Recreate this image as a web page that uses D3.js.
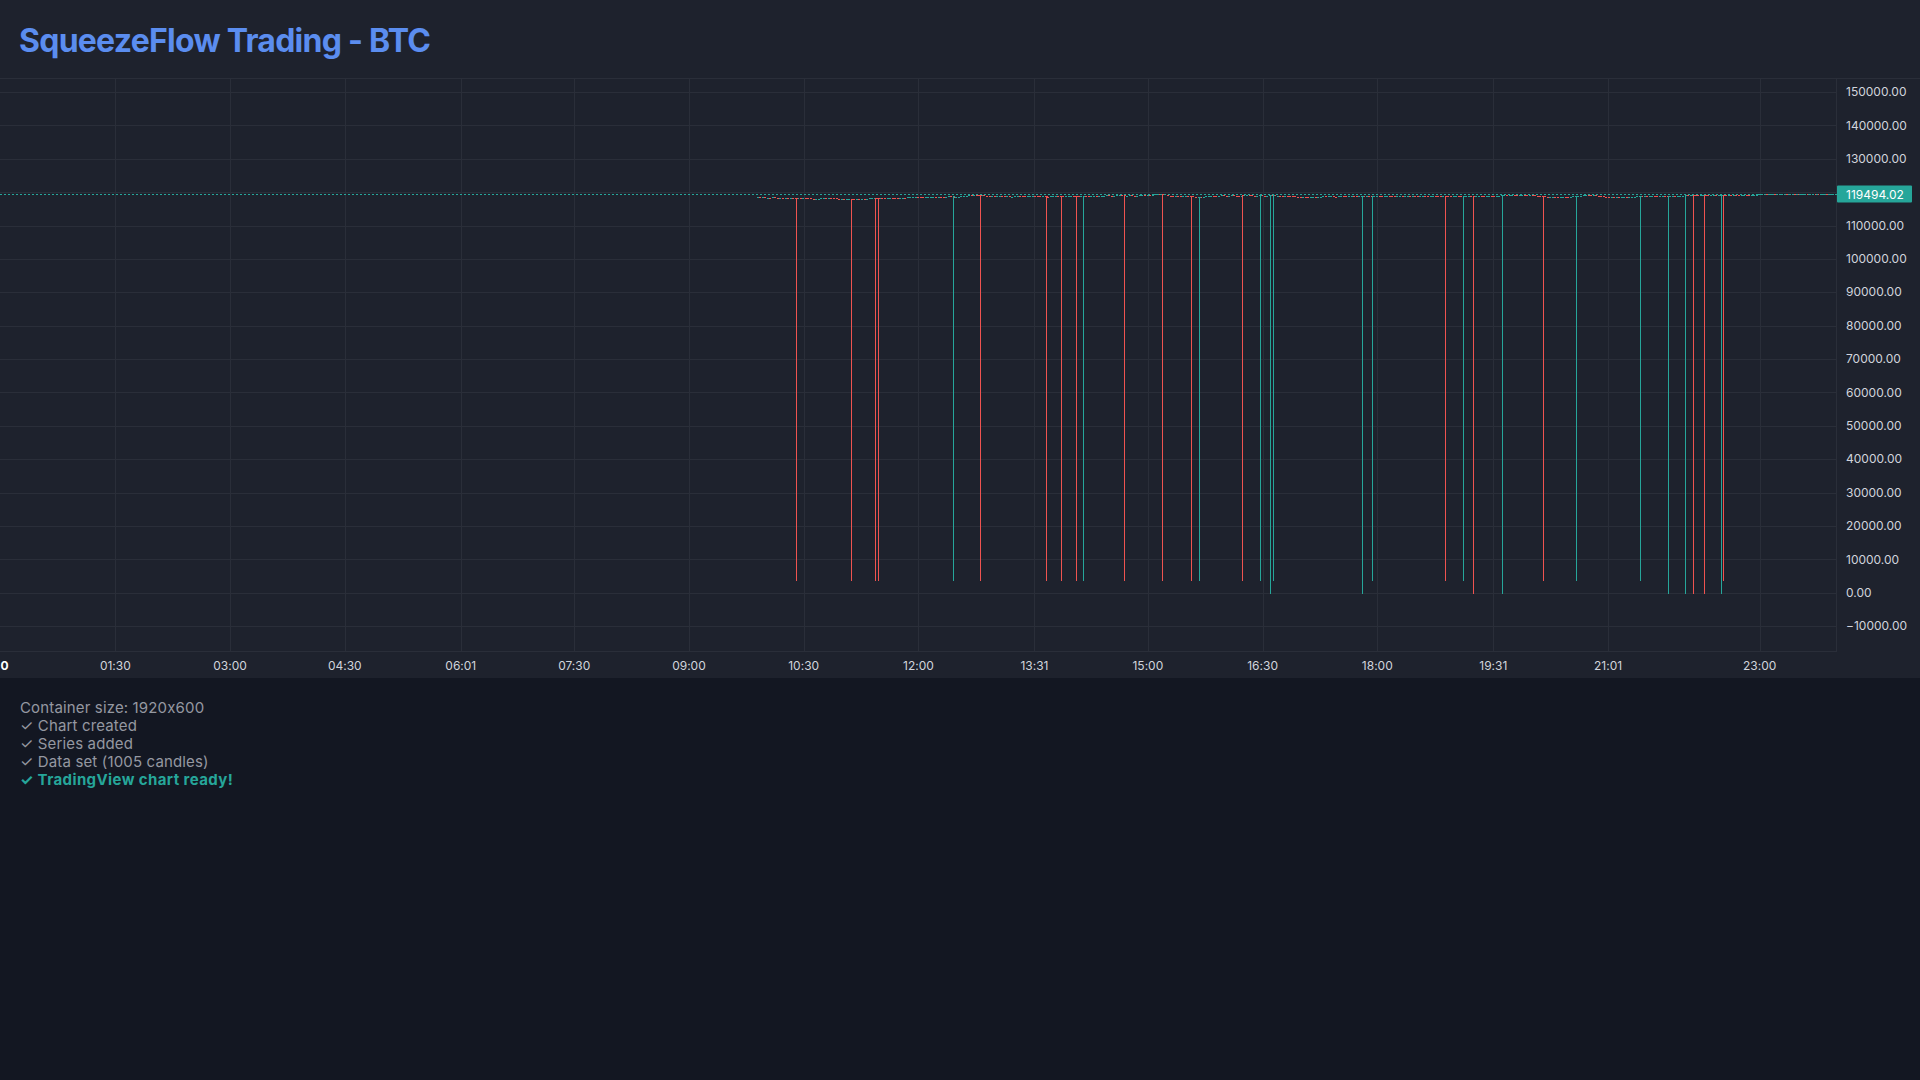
<!DOCTYPE html>
<html>
<head>
<meta charset="utf-8">
<script src="https://cdn.jsdelivr.net/npm/d3@7"></script>
<style>
html,body{margin:0;padding:0;background:#131722;overflow:hidden;}
svg{display:block;}
text{font-family:Inter,"Noto Sans",sans-serif;font-feature-settings:"calt" 0;}
</style>
</head>
<body>
<svg id="chart" width="1920" height="1080"></svg>
<script>
// ---------------- DATA ----------------
const titleText = "SqueezeFlow Trading - BTC";
const logLines = ["Container size: 1920x600", "✓ Chart created", "✓ Series added", "✓ Data set (1005 candles)"];
const readyLine = "✓ TradingView chart ready!";

const priceTicks = [-10000, 0, 10000, 20000, 30000, 40000, 50000, 60000, 70000, 80000,
  90000, 100000, 110000, 120000, 130000, 140000, 150000];
const timeTicks = ["00:00", "01:30", "03:00", "04:30", "06:01", "07:30", "09:00", "10:30",
  "12:00", "13:31", "15:00", "16:30", "18:00", "19:31", "21:01", "23:00"];
const dayLabel = "0";   // bold day mark at 00:00 (only its last digit shows at the left edge)

const candleStart = "09:53";
const candleStepMin = 2;
const firstOpen = 118380;
const closes = [
  118420, 118380, 118450, 118300, 118350, 118280, 118400, 118330, 118250, 118310,
  118220, 118300, 118260, 118350, 118290, 118240,
  118300, 118210, 118270, 118190, 118150,
  117950, 117820, 117880, 117900,
  118150, 118280, 118230, 118300, 118210, 118120,
  118020, 117940, 117980, 117880, 117950, 118030, 117920, 117860, 117970, 117900, 118010, 117940, 118050, 118120,
  118250, 118330, 118280, 118360, 118300, 118240, 118320, 118380, 118310,
  118150, 118080, 118220, 118300, 118260, 118400, 118480, 118550, 118620, 118580,
  118470, 118400, 118430, 118500,
  118560, 118620, 118580, 118680, 118640, 118590, 118650, 118700, 118620, 118560, 118610, 118680, 118720, 118800,
  118950, 119050, 118980, 119100, 119020, 118940, 119060, 118900,
  118750, 118680, 118720, 118640, 118700, 118780, 118720, 118660, 118700, 118620,
  118680, 118740, 118810, 118760, 118700, 118650, 118720, 118780, 118840, 118790,
  118720, 118680, 118740, 118690, 118630, 118700, 118760, 118820, 118770, 118710,
  118650, 118720, 118800, 118850, 118790, 118730, 118680, 118760, 118820, 118780,
  118720, 118800, 118860, 118820, 118880,
  118920, 118980, 119030, 118960, 118900, 118950, 119020, 119080, 119010, 118940, 118990, 119050, 118980, 118920, 118970, 119040,
  119100, 119060, 119150, 119120, 119200,
  119320, 119380, 119280, 119350,
  119100, 118950, 118880, 118820, 118900, 118850, 118780, 118860, 118920, 118840, 118760,
  118650, 118580, 118620, 118540, 118680,
  118800, 118900, 118960, 118920, 118870, 118940, 119010, 118960, 118900, 118980,
  119040, 118990, 118930, 118880, 118950, 119020, 119080, 119020, 118960, 118910,
  118970, 119030, 118980, 118920, 118990, 119050, 119000, 118940, 118990, 118930,
  118880, 118940, 118860, 118800, 118720,
  118620, 118560, 118500, 118580, 118520, 118460, 118540, 118600, 118550, 118620,
  118680, 118720, 118660, 118700, 118750, 118690, 118640, 118710, 118760, 118700, 118650, 118720, 118780, 118730, 118670, 118740,
  118780, 118720, 118800, 118740, 118690, 118760, 118820, 118770, 118710, 118780,
  118840, 118790, 118730, 118700, 118760, 118810, 118750, 118800, 118860, 118820,
  118880, 118830, 118790, 118850, 118900, 118860, 118810, 118870, 118920, 118880,
  118830, 118790, 118850, 118910, 118870, 118820, 118880, 118940, 118890, 118840,
  118800, 118860, 118920, 118870, 118830, 118890, 118950, 118900, 118850, 118910,
  118960, 118910, 118870, 118930, 118980, 119000,
  119050, 118990, 119040, 119100, 119050, 118980, 119030, 119090, 119040, 118990, 119060, 119020, 118960, 118900, 118820,
  118700, 118620, 118540, 118600, 118660, 118580, 118520, 118600, 118680, 118620, 118560, 118640, 118720, 118800, 118880,
  118960, 119020, 119080, 119010, 118960, 119040, 118950, 118820, 118700,
  118580, 118500, 118420, 118480, 118400, 118460, 118380, 118440, 118500, 118460, 118540, 118600,
  118650, 118700, 118740, 118680, 118720, 118660, 118710, 118760, 118700, 118650,
  118720, 118780, 118730, 118680, 118740, 118800, 118760, 118840, 118900,
  118960, 119010, 118950, 119020, 119060, 119000, 118950, 119010, 119070, 119020, 118970, 119040, 119080, 119030, 119090, 119120,
  119160, 119110, 119180, 119140, 119200, 119150, 119100, 119170, 119220, 119180, 119130, 119200, 119250, 119280,
  119320, 119380, 119340, 119290, 119360, 119410, 119370, 119320, 119390, 119440,
  119400, 119350, 119420, 119460, 119410, 119370, 119430, 119480, 119440, 119390,
  119450, 119500, 119460, 119410, 119470, 119520, 119480, 119430, 119500, 119460, 119494.02
];

// candles with bad ticks (long lower wicks)
const spikeTimes  = ["10:24","11:07","11:26","11:28","12:27","12:48","13:40","13:52","14:04","14:09","14:41",
  "15:11","15:34","15:40","16:14","16:28","16:36","16:38","17:48","17:56","18:53","19:07","19:15","19:38",
  "20:10","20:36","21:26","21:48","22:01","22:08","22:16","22:30","22:31"];
const spikeOpens  = [118350,118050,118380,118330,118560,119080,118780,118760,118820,118700,119020,
  119380,118700,118560,119000,118930,118960,118990,118720,118700,118890,118830,118920,118960,
  118700,118800,118680,118700,118950,119060,119050,119100,119180];
const spikeCloses = [118200,117900,118250,118240,118700,118950,118650,118680,118720,118800,118940,
  119250,118600,118660,118920,119010,119040,119060,118790,118780,118820,118900,118850,119040,
  118600,118880,118740,118760,119020,118980,118970,119170,119120];
const spikeLows   = [3800,3800,3800,3800,3800,3800,3800,3800,3800,3800,3800,
  3800,3800,3800,3800,3800,0,3800,0,3800,3800,3800,0,0,
  3800,3800,3800,0,0,0,0,0,3800];

const lastPrice = 119494.02;

// ---------------- LAYOUT / STYLE ----------------
const W = 1920;
const paneLeft = 0, paneRight = 1836, paneTop = 78, paneBottom = 651, chartBottom = 678;
const bg = "#1e222d", pageBg = "#131722", gridColor = "#2a2e39", textColor = "#d1d4dc";
const up = "#26a69a", down = "#ef5350";

const svg = d3.select("#chart");

svg.append("rect").attr("x", 0).attr("y", 0).attr("width", W).attr("height", chartBottom).attr("fill", bg);
svg.append("rect").attr("x", 0).attr("y", chartBottom).attr("width", W).attr("height", 1080 - chartBottom).attr("fill", pageBg);

// title
svg.append("text").attr("x", 19).attr("y", 52)
  .attr("font-size", 32).attr("font-weight", 700).attr("fill", "#5b8def")
  .attr("letter-spacing", -0.75)
  .text(titleText);

const toMin = s => { const p = s.split(":").map(Number); return p[0] * 60 + p[1]; };

const x = d3.scaleLinear().domain([0, 1440]).range([0.6, 1836.2]);
const y = d3.scaleLinear().domain([-17466, 154190]).range([paneBottom, paneTop]);

// grid
const g = svg.append("g").attr("shape-rendering", "crispEdges");
g.selectAll("line.h").data(priceTicks).join("line")
  .attr("x1", paneLeft).attr("x2", paneRight)
  .attr("y1", d => Math.round(y(d)) + 0.5).attr("y2", d => Math.round(y(d)) + 0.5)
  .attr("stroke", gridColor).attr("stroke-width", 1);
g.selectAll("line.v").data(timeTicks.slice(1)).join("line")
  .attr("x1", d => Math.round(x(toMin(d))) + 0.5).attr("x2", d => Math.round(x(toMin(d))) + 0.5)
  .attr("y1", paneTop).attr("y2", paneBottom)
  .attr("stroke", gridColor).attr("stroke-width", 1);

// borders
g.append("line").attr("x1", 0).attr("x2", W).attr("y1", paneTop + 0.5).attr("y2", paneTop + 0.5).attr("stroke", gridColor);
g.append("line").attr("x1", paneRight + 0.5).attr("x2", paneRight + 0.5).attr("y1", paneTop).attr("y2", paneBottom + 1).attr("stroke", gridColor);
g.append("line").attr("x1", 0).attr("x2", paneRight).attr("y1", paneBottom + 0.5).attr("y2", paneBottom + 0.5).attr("stroke", gridColor);

// candles
const start = toMin(candleStart);
const candles = closes.map((c, i) => {
  const o = i === 0 ? firstOpen : closes[i - 1];
  return { t: start + i * candleStepMin, o: o, c: c, h: Math.max(o, c), l: Math.min(o, c) };
});
spikeTimes.forEach((s, i) => {
  const o = spikeOpens[i], c = spikeCloses[i];
  candles.push({ t: toMin(s), o: o, c: c, h: Math.max(o, c), l: spikeLows[i] });
});

const cg = svg.append("g").attr("shape-rendering", "crispEdges");
cg.selectAll("rect.b").data(candles).join("rect")
  .attr("x", d => Math.round(x(d.t)))
  .attr("width", 2)
  .attr("y", d => y(Math.max(d.o, d.c)))
  .attr("height", d => Math.max(1, y(Math.min(d.o, d.c)) - y(Math.max(d.o, d.c))))
  .attr("fill", d => d.c >= d.o ? up : down);
cg.selectAll("rect.w").data(candles.filter(d => d.l < Math.min(d.o, d.c) - 1)).join("rect")
  .attr("x", d => Math.round(x(d.t)))
  .attr("width", 1)
  .attr("y", d => y(d.h))
  .attr("height", d => y(d.l) - y(d.h) + 1)
  .attr("fill", d => d.c >= d.o ? up : down);

// price line
const yl = Math.round(y(lastPrice)) + 0.5;
svg.append("line").attr("x1", 0).attr("x2", paneRight).attr("y1", yl).attr("y2", yl)
  .attr("stroke", up).attr("stroke-width", 1).attr("stroke-dasharray", "2,2");

// price axis labels
const fmt = d3.format(".2f");
svg.append("g").selectAll("text").data(priceTicks.filter(d => Math.abs(y(d) - y(lastPrice)) > 12)).join("text")
  .attr("x", 1846).attr("y", d => y(d)).attr("dy", "0.35em")
  .attr("font-size", 12).attr("fill", textColor).text(d => fmt(d));

svg.append("rect").attr("x", paneRight + 1).attr("y", yl - 9).attr("width", 75).attr("height", 17)
  .attr("rx", 1).attr("fill", up);
svg.append("text").attr("x", 1846).attr("y", yl).attr("dy", "0.35em")
  .attr("font-size", 12).attr("fill", "#ffffff").text(fmt(lastPrice));

// time axis labels
svg.append("g").selectAll("text").data(timeTicks).join("text")
  .attr("x", d => toMin(d) === 0 ? x(0) : x(toMin(d))).attr("y", 666).attr("dy", "0.35em")
  .attr("text-anchor", d => toMin(d) === 0 ? "start" : "middle").attr("font-size", 12)
  .attr("font-weight", d => toMin(d) === 0 ? 700 : 400)
  .attr("fill", d => toMin(d) === 0 ? "#ffffff" : textColor)
  .text(d => toMin(d) === 0 ? dayLabel : d);

// log
const lg = svg.append("g");
lg.selectAll("text").data(logLines).join("text")
  .attr("x", 20).attr("y", (d, i) => 708 + i * 18).attr("dy", "0.35em")
  .attr("font-size", 15).attr("letter-spacing", 0.15).attr("fill", "#9598a1").text(d => d);
lg.append("text").attr("x", 20).attr("y", 708 + logLines.length * 18).attr("dy", "0.35em")
  .attr("font-size", 15).attr("font-weight", 700).attr("letter-spacing", 0.4).attr("fill", up).text(readyLine);
</script>
</body>
</html>
